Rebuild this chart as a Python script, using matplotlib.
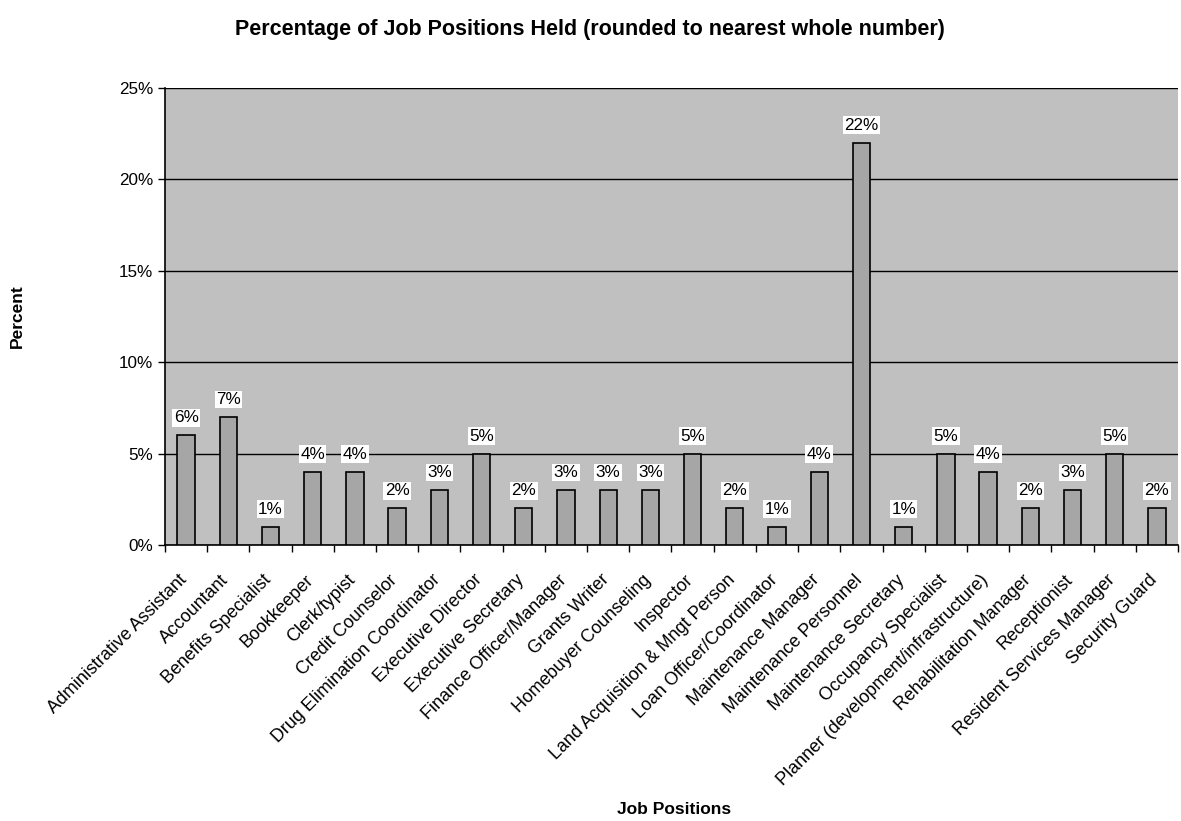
import matplotlib.pyplot as plt
import matplotlib.transforms as mtransforms
from matplotlib.ticker import FuncFormatter, FixedLocator
import numpy as np

plt.rcParams["font.family"] = ["Liberation Sans", "DejaVu Sans"]

positions = [
    "Administrative Assistant", "Accountant", "Benefits Specialist", "Bookkeeper",
    "Clerk/typist", "Credit Counselor", "Drug Elimination Coordinator",
    "Executive Director", "Executive Secretary", "Finance Officer/Manager",
    "Grants Writer", "Homebuyer Counseling", "Inspector",
    "Land Acquisition & Mngt Person", "Loan Officer/Coordinator",
    "Maintenance Manager", "Maintenance Personnel", "Maintenance Secretary",
    "Occupancy Specialist", "Planner (development/infrastructure)",
    "Rehabilitation Manager", "Receptionist", "Resident Services Manager",
    "Security Guard",
]
percent = [6, 7, 1, 4, 4, 2, 3, 5, 2, 3, 3, 3, 5, 2, 1, 4, 22, 1, 5, 4, 2, 3, 5, 2]

fig = plt.figure(figsize=(11.81, 8.21), dpi=100)
ax = fig.add_axes([165 / 1181, 1 - 545 / 821, 1013 / 1181, 457 / 821])
ax.set_facecolor("#C0C0C0")

x = np.arange(len(positions))
ax.bar(x, percent, width=0.41, color="#A6A6A6", edgecolor="black", linewidth=1.2, zorder=3)
for xi, v in zip(x, percent):
    ax.text(xi, v + 0.55, f"{v}%", ha="center", va="bottom", fontsize=12.3, zorder=4,
            bbox=dict(facecolor="white", edgecolor="none", pad=1.0))

ax.set_xlim(-0.5, len(positions) - 0.5)
ax.set_ylim(0, 25)
ax.set_yticks([0, 5, 10, 15, 20, 25])
ax.yaxis.set_major_formatter(FuncFormatter(lambda v, _: f"{v:.0f}%"))
ax.yaxis.grid(True, color="black", linewidth=1, zorder=1)
ax.set_axisbelow(True)

ax.set_xticks(x)
ax.set_xticklabels(positions, rotation=45, ha="right", rotation_mode="anchor", fontsize=12.9)
ax.tick_params(axis="x", length=0, pad=19)
shift = mtransforms.ScaledTranslation(-0.08, 0, fig.dpi_scale_trans)
for lbl in ax.get_xticklabels():
    lbl.set_transform(lbl.get_transform() + shift)
ax.xaxis.set_minor_locator(FixedLocator(np.arange(-0.5, len(positions), 1)))
ax.tick_params(axis="x", which="minor", length=5, direction="out", width=1)
ax.tick_params(axis="y", length=5, width=1, labelsize=12.3)

for side in ["top", "right"]:
    ax.spines[side].set_visible(False)
ax.spines["left"].set_linewidth(1.2)
ax.spines["bottom"].set_linewidth(1.2)

# axis titles sit far out, Excel style
fig.text(17 / 1181, 1 - 316 / 821, "Percent", rotation=90, ha="center", va="center",
         fontsize=12.5, fontweight="bold")
fig.text(674 / 1181, 1 - 809 / 821, "Job Positions", ha="center", va="center",
         fontsize=12.5, fontweight="bold")
fig.text(590 / 1181, 1 - 29 / 821,
         "Percentage of Job Positions Held (rounded to nearest whole number)",
         ha="center", va="center", fontsize=15.5, fontweight="bold")

fig.savefig("out.png", dpi=100)
